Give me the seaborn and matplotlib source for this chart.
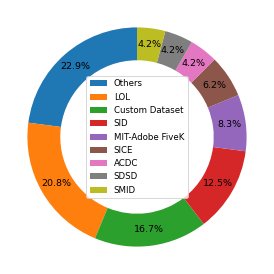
import matplotlib
matplotlib.use("Agg")
import matplotlib.pyplot as plt
import seaborn as sns

# Dataset usage counts (share of surveyed papers)
datasets = ["Others", "LOL", "Custom Dataset", "SID", "MIT-Adobe FiveK",
            "SICE", "ACDC", "SDSD", "SMID"]
counts = [11, 10, 8, 6, 4, 3, 2, 2, 2]

colors = sns.color_palette("tab10", len(datasets))

fig = plt.figure(figsize=(4, 4), dpi=68.5)
ax = fig.add_axes([0, 0, 1, 1])

wedges, texts, autotexts = ax.pie(
    counts, colors=colors, startangle=90, autopct="%1.1f%%",
    pctdistance=0.85, wedgeprops=dict(width=0.3))

ax.legend(wedges, datasets, loc="center", fontsize=9)
ax.set_aspect("equal")

fig.savefig("out.png", dpi=68.5)
